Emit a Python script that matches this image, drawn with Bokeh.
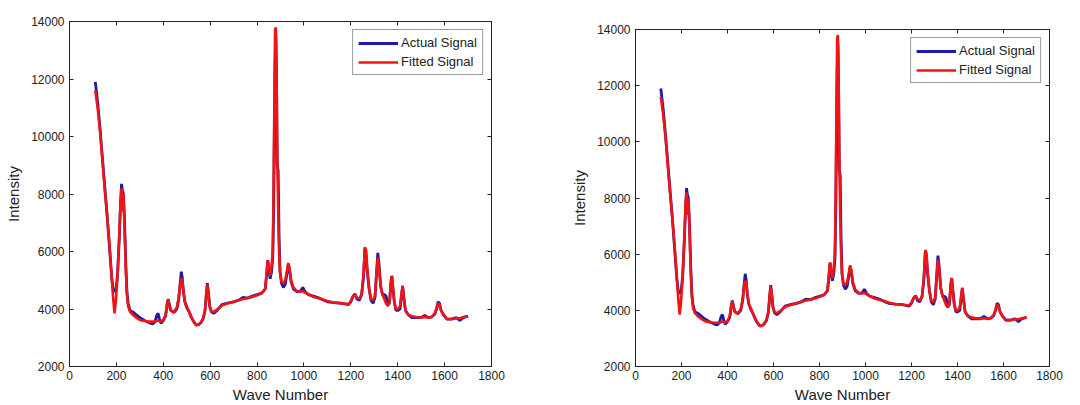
from bokeh.plotting import figure
from bokeh.layouts import row
from bokeh.models import Range1d, LinearAxis, FixedTicker, Legend, LegendItem
from bokeh.embed import file_html
from bokeh.resources import INLINE

wave = [110, 120, 130, 140, 150, 160, 170, 180, 186, 192, 198, 205, 212, 218, 222, 226, 230, 235, 240, 245,
        250, 258, 270, 285, 300, 320, 340, 355, 365, 372, 378, 384, 390, 400, 410, 417, 421, 426, 432, 445,
        458, 466, 472, 477, 481, 486, 492, 500, 510, 520, 530, 540, 550, 560, 570, 578, 584, 588, 592, 598,
        605, 615, 630, 650, 670, 700, 720, 740, 760, 780, 800, 820, 835, 842, 846, 851, 856, 862, 867, 871,
        874, 877, 880, 883, 886, 890, 894, 898, 904, 912, 920, 927, 933, 938, 945, 955, 970, 985, 995, 1005,
        1020, 1040, 1060, 1080, 1100, 1130, 1160, 1190, 1200, 1210, 1218, 1226, 1236, 1246, 1254, 1260, 1265, 1270, 1278, 1286,
        1295, 1303, 1310, 1315, 1320, 1327, 1335, 1343, 1350, 1358, 1365, 1371, 1375, 1380, 1386, 1393, 1402, 1410, 1417, 1421,
        1426, 1433, 1445, 1460, 1480, 1500, 1515, 1530, 1545, 1558, 1566, 1572, 1578, 1585, 1595, 1610, 1630, 1650, 1665, 1680,
        1700]

actual = [11900, 11200, 10300, 9300, 8300, 7300, 6200, 5100, 4700, 4600, 4650, 5200, 6400, 7700, 8350, 8100, 8000, 7000, 5600, 4600,
          4200, 3950, 3900, 3800, 3700, 3600, 3520, 3480, 3560, 3780, 3850, 3650, 3500, 3600, 3750, 4200, 4350, 4150, 3950, 3880,
          4000, 4350, 4900, 5300, 5100, 4600, 4250, 4050, 3900, 3700, 3550, 3450, 3450, 3520, 3650, 3950, 4550, 4900, 4600, 4100,
          3900, 3850, 3950, 4150, 4200, 4250, 4300, 4400, 4380, 4450, 4500, 4550, 4700, 5300, 5700, 5300, 5050, 5300, 5800, 7500,
          10500, 12500, 13500, 12000, 9000, 8800, 6500, 5300, 4900, 4750, 4850, 5200, 5550, 5400, 4950, 4700, 4600, 4620, 4750, 4600,
          4500, 4450, 4400, 4320, 4250, 4220, 4200, 4150, 4250, 4450, 4520, 4350, 4300, 4500, 5100, 6100, 5900, 5300, 4700, 4300,
          4200, 4400, 5300, 5950, 5600, 4800, 4500, 4500, 4450, 4150, 4200, 4900, 5150, 4700, 4200, 3950, 3950, 4000, 4500, 4800,
          4400, 3950, 3800, 3700, 3700, 3700, 3780, 3700, 3720, 3820, 4000, 4250, 4200, 3950, 3800, 3650, 3650, 3700, 3600, 3700,
          3750]

fitted = [11600, 11000, 10200, 9200, 8200, 7300, 6300, 5100, 4400, 3850, 4300, 5200, 6500, 7800, 8200, 7400, 8000, 6800, 5400, 4500,
          4100, 3900, 3800, 3700, 3620, 3580, 3560, 3560, 3570, 3580, 3600, 3580, 3560, 3620, 3800, 4200, 4330, 4100, 3950, 3880,
          4050, 4400, 4850, 5050, 5000, 4600, 4250, 4100, 3900, 3720, 3560, 3440, 3450, 3520, 3680, 3950, 4600, 4850, 4600, 4100,
          3920, 3900, 3980, 4120, 4180, 4250, 4300, 4350, 4380, 4420, 4480, 4550, 4700, 5400, 5700, 5400, 5150, 5500, 6000, 8500,
          11500, 13700, 13800, 12500, 9500, 7500, 6000, 5300, 4950, 4900, 5000, 5300, 5600, 5450, 5000, 4750, 4620, 4600, 4620, 4570,
          4500, 4420, 4380, 4330, 4280, 4220, 4200, 4170, 4280, 4450, 4500, 4400, 4350, 4500, 5200, 6150, 6050, 5400, 4700, 4350,
          4300, 4450, 5300, 5800, 5500, 4800, 4500, 4350, 4200, 4100, 4250, 5000, 5150, 4700, 4200, 4000, 4000, 4100, 4600, 4800,
          4400, 3950, 3800, 3750, 3720, 3700, 3720, 3700, 3730, 3850, 4050, 4200, 4150, 3950, 3800, 3650, 3650, 3680, 3680, 3720,
          3750]

x_ticks = [0, 200, 400, 600, 800, 1000, 1200, 1400, 1600, 1800]
y_ticks = [2000, 4000, 6000, 8000, 10000, 12000, 14000]
series_names = ["Actual Signal", "Fitted Signal"]

FONT = "Liberation Sans"
BLUE = "#1c1ca8"
RED = "#f01414"


def style_axis(ax, ticks, show_labels=True, tick_standoff=5, label_standoff=8):
    ax.ticker = FixedTicker(ticks=ticks)
    ax.major_tick_in = 4
    ax.major_tick_out = 0
    ax.minor_tick_line_color = None
    ax.axis_line_color = "#222222"
    ax.major_tick_line_color = "#222222"
    ax.major_label_text_font = FONT
    ax.major_label_text_color = "#222222"
    ax.major_label_text_font_size = "12px"
    ax.major_label_standoff = tick_standoff
    if not show_labels:
        ax.major_label_overrides = {t: "" for t in ticks}
        ax.major_label_text_font_size = "1px"
        ax.major_label_standoff = 0
    ax.axis_label_text_font = FONT
    ax.axis_label_text_font_size = "15px"
    ax.axis_label_text_font_style = "normal"
    ax.axis_label_text_color = "#222222"
    ax.axis_label_standoff = label_standoff


def make_plot(height, borders, margin):
    left, right, top, bottom = borders
    p = figure(width=540, height=height, output_backend="svg", toolbar_location=None,
               x_range=Range1d(0, 1800), y_range=Range1d(2000, 14000),
               min_border_left=left, min_border_right=right,
               min_border_top=top, min_border_bottom=bottom, margin=margin)
    p.grid.visible = False
    p.outline_line_color = "#222222"
    p.background_fill_color = "white"
    p.border_fill_color = "white"
    p.xaxis.axis_label = "Wave Number"
    p.yaxis.axis_label = "Intensity"
    for ax in p.xaxis:
        style_axis(ax, x_ticks, tick_standoff=4, label_standoff=3)
    for ax in p.yaxis:
        style_axis(ax, y_ticks, tick_standoff=5, label_standoff=6)
    top_ax = LinearAxis()
    right_ax = LinearAxis()
    style_axis(top_ax, x_ticks, False)
    style_axis(right_ax, y_ticks, False)
    p.add_layout(top_ax, "above")
    p.add_layout(right_ax, "right")

    r1 = p.line(wave, actual, line_color=BLUE, line_width=2.8)
    r2 = p.line(wave, fitted, line_color=RED, line_width=2.6)
    legend = Legend(items=[LegendItem(label=series_names[0], renderers=[r1]),
                           LegendItem(label=series_names[1], renderers=[r2])],
                    location="top_right")
    legend.margin = 8
    legend.padding = 5
    legend.spacing = 4
    legend.glyph_width = 40
    legend.glyph_height = 14
    legend.label_height = 14
    legend.label_standoff = 3
    legend.label_text_font = FONT
    legend.label_text_font_size = "13px"
    legend.label_text_color = "#222222"
    legend.border_line_color = "#333333"
    legend.border_line_width = 1
    legend.background_fill_alpha = 1
    p.add_layout(legend, "center")
    return p


p1 = make_plot(405, (69, 49, 21, 39), (0, 0, 0, 0))
p2 = make_plot(397, (95, 31, 21, 30), (8, 0, 0, 0))
layout = row(p1, p2)

open("out.html", "w").write(file_html(layout, INLINE))
